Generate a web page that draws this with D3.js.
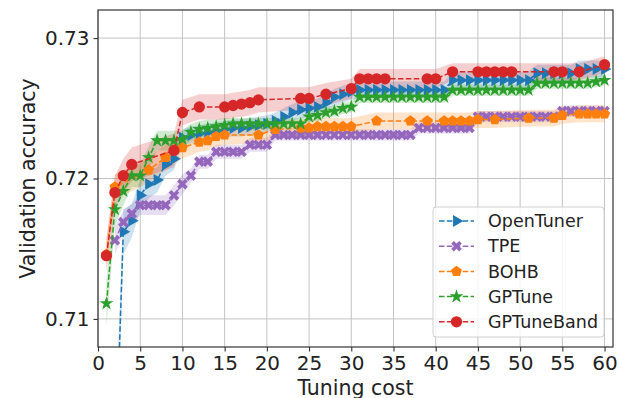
<!DOCTYPE html>
<html>
<head>
<meta charset="utf-8">
<script src="https://cdn.jsdelivr.net/npm/d3@7"></script>
<style>
  body { margin: 0; background: #fff; }
  svg { font-family: "DejaVu Sans", sans-serif; }
</style>
</head>
<body>
<svg id="chart" width="619" height="398"></svg>
<script>
// tuning cost on the x axis, one slot per unit; null = no point there
const tuningCost = [
  1, 2, 3, 4, 5, 6, 7, 8, 9, 10,
  11, 12, 13, 14, 15, 16, 17, 18, 19, 20,
  21, 22, 23, 24, 25, 26, 27, 28, 29, 30,
  31, 32, 33, 34, 35, 36, 37, 38, 39, 40,
  41, 42, 43, 44, 45, 46, 47, 48, 49, 50,
  51, 52, 53, 54, 55, 56, 57, 58, 59, 60]

const xTicks = [0, 5, 10, 15, 20, 25, 30, 35, 40, 45, 50, 55, 60]
const yTicks = [0.71, 0.72, 0.73]

const openTuner = [
  null, 0.6984, 0.7162, 0.7170, 0.7188, 0.7196, 0.7199, 0.7210, 0.7214, 0.7229,
  0.7231, 0.7232, 0.7233, 0.7234, 0.7235, 0.7236, 0.7236, 0.7237, 0.7238, 0.7239,
  0.7241, 0.7244, 0.7247, 0.7249, 0.7250, 0.7251, 0.7254, 0.7258, 0.7260, 0.7262,
  0.7263, 0.7263, 0.7263, 0.7263, 0.7263, 0.7263, 0.7263, 0.7263, 0.7263, 0.7263,
  0.7263, 0.7270, 0.7270, 0.7270, 0.7270, 0.7270, 0.7270, 0.7270, 0.7270, 0.7270,
  0.7270, 0.7275, 0.7275, 0.7275, 0.7275, 0.7275, 0.7278, 0.7278, 0.7278, 0.7278]
const openTunerStd = [
  null, 0.0030, 0.0016, 0.0012, 0.0011, 0.0010, 0.0009, 0.0008, 0.0008, 0.0006,
  0.0006, 0.0006, 0.0006, 0.0006, 0.0006, 0.0006, 0.0006, 0.0006, 0.0006, 0.0006,
  0.0006, 0.0006, 0.0006, 0.0006, 0.0006, 0.0006, 0.0006, 0.0006, 0.0006, 0.0006,
  0.0006, 0.0006, 0.0006, 0.0006, 0.0006, 0.0006, 0.0006, 0.0006, 0.0006, 0.0006,
  0.0006, 0.0006, 0.0006, 0.0006, 0.0006, 0.0006, 0.0006, 0.0006, 0.0006, 0.0006,
  0.0006, 0.0006, 0.0006, 0.0006, 0.0006, 0.0006, 0.0006, 0.0006, 0.0006, 0.0006]

const tpe = [
  null, 0.7156, 0.7169, 0.7175, 0.7181, 0.7181, 0.7181, 0.7181, 0.7188, 0.7196,
  0.7202, 0.7212, 0.7212, 0.7219, 0.7219, 0.7219, 0.7219, 0.7224, 0.7224, 0.7224,
  0.7231, 0.7231, 0.7231, 0.7231, 0.7231, 0.7231, 0.7231, 0.7231, 0.7231, 0.7231,
  0.7231, 0.7231, 0.7231, 0.7231, 0.7231, 0.7231, 0.7231, 0.7236, 0.7236, 0.7236,
  0.7236, 0.7236, 0.7236, 0.7236, 0.7244, 0.7244, 0.7244, 0.7244, 0.7244, 0.7244,
  0.7244, 0.7244, 0.7244, 0.7244, 0.7248, 0.7248, 0.7248, 0.7248, 0.7248, 0.7248]
const tpeStd = [
  null, 0.0010, 0.0008, 0.0007, 0.0007, 0.0007, 0.0007, 0.0007, 0.0007, 0.0007,
  0.0005, 0.0005, 0.0005, 0.0005, 0.0005, 0.0005, 0.0005, 0.0005, 0.0005, 0.0005,
  0.0004, 0.0004, 0.0004, 0.0004, 0.0004, 0.0004, 0.0004, 0.0004, 0.0004, 0.0004,
  0.0004, 0.0004, 0.0004, 0.0004, 0.0004, 0.0004, 0.0004, 0.0004, 0.0004, 0.0004,
  0.0004, 0.0004, 0.0004, 0.0004, 0.0004, 0.0004, 0.0004, 0.0004, 0.0004, 0.0004,
  0.0004, 0.0004, 0.0004, 0.0004, 0.0004, 0.0004, 0.0004, 0.0004, 0.0004, 0.0004]

const bohb = [
  0.7146, 0.7194, null, null, null, 0.7206, null, 0.7215, null, 0.7222,
  null, 0.7226, 0.7227, 0.7230, 0.7231, null, null, null, 0.7231, null,
  0.7235, null, null, 0.7236, 0.7236, 0.7237, 0.7237, 0.7237, 0.7237, 0.7237,
  null, null, 0.7241, null, null, null, 0.7241, null, 0.7241, null,
  0.7241, 0.7241, 0.7241, 0.7241, 0.7242, null, 0.7242, null, null, null,
  0.7243, null, null, 0.7243, 0.7245, null, 0.7246, 0.7246, 0.7246, 0.7246]
const bohbStd = [
  0.0010, 0.0009, null, null, null, 0.0009, null, 0.0009, null, 0.0008,
  null, 0.0007, 0.0007, 0.0007, 0.0007, null, null, null, 0.0006, null,
  0.0006, null, null, 0.0006, 0.0006, 0.0006, 0.0006, 0.0006, 0.0006, 0.0006,
  null, null, 0.0006, null, null, null, 0.0006, null, 0.0006, null,
  0.0006, 0.0006, 0.0006, 0.0006, 0.0006, null, 0.0006, null, null, null,
  0.0006, null, null, 0.0006, 0.0006, null, 0.0006, 0.0006, 0.0006, 0.0006]

const gpTune = [
  0.7111, 0.7178, 0.7191, 0.7202, 0.7202, 0.7215, 0.7227, 0.7227, 0.7227, 0.7228,
  0.7233, 0.7235, 0.7236, 0.7237, 0.7238, 0.7239, 0.7239, 0.7239, 0.7239, 0.7239,
  0.7239, 0.7239, 0.7239, 0.7239, 0.7244, 0.7245, 0.7247, 0.7248, 0.7250, 0.7251,
  0.7258, 0.7258, 0.7258, 0.7258, 0.7258, 0.7258, 0.7258, 0.7258, 0.7258, 0.7258,
  0.7258, 0.7263, 0.7263, 0.7263, 0.7263, 0.7263, 0.7263, 0.7263, 0.7263, 0.7263,
  0.7263, 0.7268, 0.7268, 0.7268, 0.7268, 0.7268, 0.7268, 0.7268, 0.7269, 0.7270]
const gpTuneStd = [
  0.0016, 0.0012, 0.0010, 0.0008, 0.0008, 0.0008, 0.0007, 0.0007, 0.0007, 0.0006,
  0.0006, 0.0006, 0.0006, 0.0005, 0.0005, 0.0004, 0.0004, 0.0004, 0.0004, 0.0004,
  0.0004, 0.0004, 0.0004, 0.0004, 0.0004, 0.0004, 0.0004, 0.0004, 0.0004, 0.0004,
  0.0004, 0.0004, 0.0004, 0.0004, 0.0004, 0.0004, 0.0004, 0.0004, 0.0004, 0.0004,
  0.0004, 0.0004, 0.0004, 0.0004, 0.0004, 0.0004, 0.0004, 0.0004, 0.0004, 0.0004,
  0.0004, 0.0004, 0.0004, 0.0004, 0.0004, 0.0004, 0.0004, 0.0004, 0.0004, 0.0004]

const gpTuneBand = [
  0.7145, 0.7190, 0.7202, 0.7210, null, null, null, null, 0.7220, 0.7247,
  null, 0.7251, null, null, 0.7251, 0.7252, 0.7253, 0.7254, 0.7256, null,
  null, null, null, 0.7257, 0.7257, null, 0.7260, null, null, 0.7264,
  0.7271, 0.7271, 0.7271, 0.7271, null, null, null, null, 0.7271, 0.7271,
  null, 0.7276, null, null, 0.7276, 0.7276, 0.7276, 0.7276, 0.7276, null,
  null, null, null, 0.7276, 0.7276, null, 0.7276, null, null, 0.7281]
const gpTuneBandStd = [
  0.0012, 0.0012, 0.0012, 0.0012, null, null, null, null, 0.0012, 0.0009,
  null, 0.0009, null, null, 0.0009, 0.0009, 0.0009, 0.0009, 0.0009, null,
  null, null, null, 0.0008, 0.0008, null, 0.0008, null, null, 0.0007,
  0.0007, 0.0007, 0.0007, 0.0007, null, null, null, null, 0.0007, 0.0007,
  null, 0.0006, null, null, 0.0006, 0.0006, 0.0006, 0.0006, 0.0006, null,
  null, null, null, 0.0006, 0.0006, null, 0.0006, null, null, 0.0006]

// matplotlib-ish pentagon marker, d3 has none
const symbolPentagon = {
  draw(context, size) {
    const r = Math.sqrt(size / (2.5 * Math.sin(2 * Math.PI / 5)))
    for (let i = 0; i < 5; i++) {
      const a = -Math.PI / 2 + i * 2 * Math.PI / 5
      const px = r * Math.cos(a), py = r * Math.sin(a)
      if (i === 0) context.moveTo(px, py)
      else context.lineTo(px, py)
    }
    context.closePath()
  }
}

const series = [
  { name: 'OpenTuner', values: openTuner, std: openTunerStd, color: '#1f77b4', symbol: d3.symbolTriangle, size: 62, rotate: 90 },
  { name: 'TPE', values: tpe, std: tpeStd, color: '#9467bd', symbol: d3.symbolCross, size: 70, rotate: 45 },
  { name: 'BOHB', values: bohb, std: bohbStd, color: '#ff7f0e', symbol: symbolPentagon, size: 78, rotate: 0 },
  { name: 'GPTune', values: gpTune, std: gpTuneStd, color: '#2ca02c', symbol: d3.symbolStar, size: 60, rotate: 0 },
  { name: 'GPTuneBand', values: gpTuneBand, std: gpTuneBandStd, color: '#d62728', symbol: d3.symbolCircle, size: 100, rotate: 0 },
]

const width = 619, height = 398
const margin = { top: 10, right: 6, bottom: 51, left: 98 }

const svg = d3.select('#chart')

const x = d3.scaleLinear()
  .domain([0, 61])
  .range([margin.left, width - margin.right])

const y = d3.scaleLinear()
  .domain([0.708, 0.732])
  .range([height - margin.bottom, margin.top])

svg.append('defs').append('clipPath')
  .attr('id', 'plot-clip')
  .append('rect')
  .attr('x', margin.left)
  .attr('y', margin.top)
  .attr('width', width - margin.left - margin.right)
  .attr('height', height - margin.top - margin.bottom)

// grid
const grid = svg.append('g').attr('class', 'grid')
grid.selectAll('line.vx')
  .data(xTicks)
  .enter().append('line')
  .attr('x1', d => x(d)).attr('x2', d => x(d))
  .attr('y1', margin.top).attr('y2', height - margin.bottom)
  .attr('stroke', '#c4c4c4')
  .attr('stroke-width', 1)
grid.selectAll('line.hy')
  .data(yTicks)
  .enter().append('line')
  .attr('x1', margin.left).attr('x2', width - margin.right)
  .attr('y1', d => y(d)).attr('y2', d => y(d))
  .attr('stroke', '#c4c4c4')
  .attr('stroke-width', 1)

const plot = svg.append('g').attr('clip-path', 'url(#plot-clip)')

const pointsOf = s => tuningCost
  .map((c, i) => ({ c, v: s.values[i], s: s.std[i] }))
  .filter(d => d.v != null)

const band = d3.area()
  .x(d => x(d.c))
  .y0(d => y(d.v - d.s))
  .y1(d => y(d.v + d.s))

const line = d3.line()
  .x(d => x(d.c))
  .y(d => y(d.v))

for (const s of series) {
  const pts = pointsOf(s)
  plot.append('path')
    .datum(pts)
    .attr('d', band)
    .attr('fill', s.color)
    .attr('opacity', 0.22)
}

for (const s of series) {
  const pts = pointsOf(s)
  const g = plot.append('g')
  g.append('path')
    .datum(pts)
    .attr('d', line)
    .attr('fill', 'none')
    .attr('stroke', s.color)
    .attr('stroke-width', 1.5)
    .attr('stroke-dasharray', '5.5,2.4')
  g.selectAll('path.mk')
    .data(pts)
    .enter().append('path')
    .attr('class', 'mk')
    .attr('d', d3.symbol(s.symbol, s.size))
    .attr('transform', d => `translate(${x(d.c)},${y(d.v)}) rotate(${s.rotate})`)
    .attr('fill', s.color)
}

// axes
const xAxis = svg.append('g')
  .attr('transform', `translate(0,${height - margin.bottom})`)
  .call(d3.axisBottom(x).tickValues(xTicks).tickSize(4.5).tickPadding(4.5).tickSizeOuter(0))
const yAxis = svg.append('g')
  .attr('transform', `translate(${margin.left},0)`)
  .call(d3.axisLeft(y).tickValues(yTicks).tickFormat(d3.format('.2f')).tickSize(4.5).tickPadding(4).tickSizeOuter(0))

for (const ax of [xAxis, yAxis]) {
  ax.select('.domain').remove()
  ax.selectAll('.tick line').attr('stroke', '#333').attr('stroke-width', 1.1)
  ax.selectAll('.tick text')
    .attr('fill', '#222')
    .style('font-size', '20px')
    .style('font-family', '"DejaVu Sans", sans-serif')
}

// frame
svg.append('rect')
  .attr('x', margin.left)
  .attr('y', margin.top)
  .attr('width', width - margin.left - margin.right)
  .attr('height', height - margin.top - margin.bottom)
  .attr('fill', 'none')
  .attr('stroke', '#333')
  .attr('stroke-width', 1.2)

// axis titles
svg.append('text')
  .attr('transform', `translate(35,${(margin.top + height - margin.bottom) / 2}) rotate(-90)`)
  .attr('text-anchor', 'middle')
  .attr('fill', '#222')
  .style('font-size', '20.5px')
  .text('Validation accuracy')

svg.append('text')
  .attr('x', (margin.left + width - margin.right) / 2)
  .attr('y', 395)
  .attr('text-anchor', 'middle')
  .attr('fill', '#222')
  .style('font-size', '20.5px')
  .text('Tuning cost')

// legend
const legend = svg.append('g').attr('transform', 'translate(433,207)')
legend.append('rect')
  .attr('width', 171)
  .attr('height', 130)
  .attr('rx', 3)
  .attr('fill', '#fff')
  .attr('fill-opacity', 0.8)
  .attr('stroke', '#d0d0d0')

series.forEach((s, i) => {
  const row = legend.append('g').attr('transform', `translate(0,${14 + i * 25.2})`)
  row.append('line')
    .attr('x1', 6).attr('x2', 41)
    .attr('stroke', s.color)
    .attr('stroke-width', 1.5)
    .attr('stroke-dasharray', '5.5,2.4')
  row.append('path')
    .attr('d', d3.symbol(s.symbol, s.size))
    .attr('transform', `translate(23.5,0) rotate(${s.rotate})`)
    .attr('fill', s.color)
  row.append('text')
    .attr('x', 55)
    .attr('dy', '0.35em')
    .attr('fill', '#222')
    .style('font-size', '17.5px')
    .text(s.name)
})
</script>
</body>
</html>
